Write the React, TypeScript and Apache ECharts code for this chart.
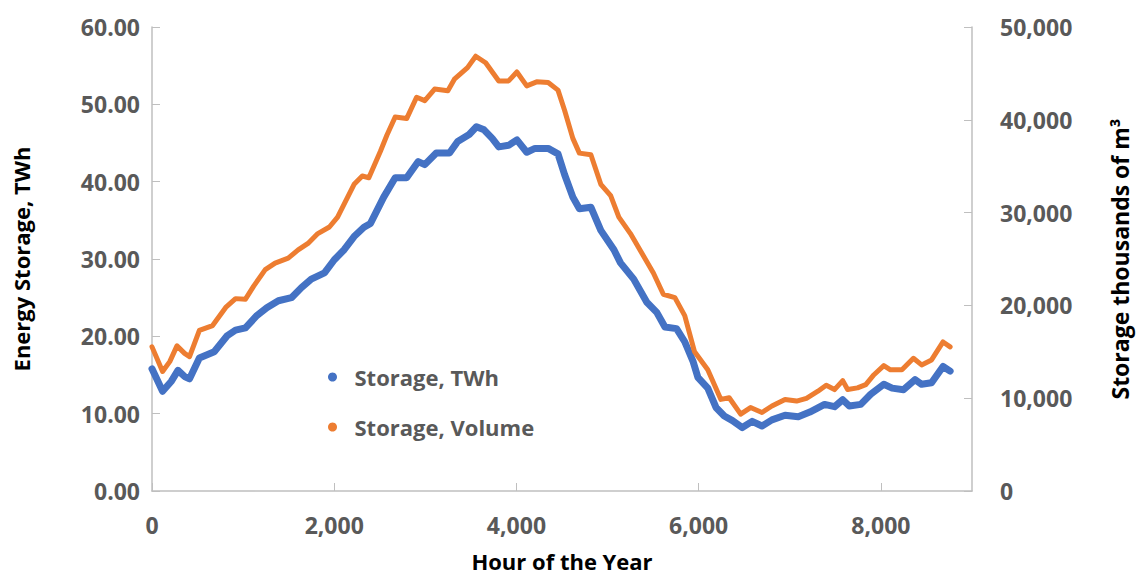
import React, { useEffect, useRef } from "react";
import * as echarts from "echarts";

const hoursTWh = [0, 116, 213, 285, 358, 412, 520, 683, 827, 917, 1026, 1152, 1260, 1387, 1531, 1640, 1748, 1893, 2001, 2109, 2218, 2326, 2398, 2543, 2669, 2795, 2922, 2994, 3120, 3265, 3355, 3481, 3561, 3644, 3734, 3806, 3914, 4005, 4113, 4204, 4348, 4456, 4529, 4619, 4691, 4817, 4926, 5070, 5142, 5287, 5431, 5540, 5630, 5757, 5847, 5937, 5991, 6100, 6190, 6281, 6371, 6479, 6587, 6695, 6804, 6948, 7093, 7220, 7382, 7491, 7581, 7653, 7779, 7888, 8032, 8123, 8249, 8375, 8447, 8556, 8682, 8760];
const storageTWh = [15.8, 12.9, 14.2, 15.6, 14.8, 14.5, 17.2, 18.0, 20.1, 20.8, 21.1, 22.7, 23.7, 24.6, 25.0, 26.3, 27.4, 28.2, 29.9, 31.2, 32.9, 34.1, 34.6, 38.0, 40.5, 40.5, 42.6, 42.2, 43.7, 43.7, 45.2, 46.1, 47.1, 46.7, 45.6, 44.5, 44.7, 45.4, 43.8, 44.3, 44.3, 43.6, 40.9, 38.0, 36.5, 36.7, 33.7, 31.2, 29.5, 27.4, 24.4, 23.1, 21.2, 21.0, 19.3, 16.8, 14.7, 13.3, 10.8, 9.7, 9.1, 8.2, 9.0, 8.4, 9.2, 9.8, 9.6, 10.2, 11.2, 10.9, 11.8, 11.0, 11.2, 12.5, 13.8, 13.3, 13.1, 14.4, 13.8, 14.0, 16.1, 15.5];

const hoursVolume = [0, 116, 195, 274, 358, 412, 520, 665, 809, 917, 1026, 1116, 1243, 1351, 1495, 1604, 1712, 1820, 1947, 2037, 2146, 2218, 2308, 2380, 2506, 2579, 2669, 2795, 2904, 2994, 3102, 3247, 3319, 3463, 3553, 3662, 3806, 3914, 4005, 4113, 4222, 4348, 4456, 4529, 4619, 4691, 4817, 4926, 5034, 5124, 5251, 5377, 5503, 5612, 5739, 5847, 5955, 6100, 6244, 6335, 6461, 6569, 6695, 6804, 6948, 7075, 7183, 7309, 7400, 7491, 7581, 7635, 7743, 7834, 7924, 8032, 8105, 8231, 8357, 8447, 8556, 8682, 8760];
const storageVolume = [15530, 12880, 13940, 15640, 14830, 14470, 17300, 17830, 19780, 20730, 20670, 22080, 23850, 24560, 25090, 25980, 26680, 27740, 28450, 29510, 31640, 33050, 33940, 33760, 36590, 38360, 40310, 40130, 42430, 42070, 43310, 43130, 44370, 45620, 46850, 46150, 44190, 44190, 45150, 43660, 44090, 44020, 43200, 41010, 38000, 36410, 36230, 33050, 31820, 29510, 27740, 25620, 23490, 21200, 20840, 18900, 15000, 13060, 9870, 10050, 8280, 8990, 8460, 9160, 9870, 9690, 9980, 10750, 11390, 10930, 11890, 10930, 11110, 11470, 12530, 13510, 13060, 13060, 14300, 13590, 14120, 16060, 15530];

const seriesNames = ["Storage, TWh", "Storage, Volume"];
const xTitle = "Hour of the Year";
const yLeftTitle = "Energy Storage, TWh";
const yRightTitle = "Storage thousands of m\u00b3";

export default function App() {
  const ref = useRef<HTMLDivElement>(null);
  useEffect(() => {
    if (!ref.current) return;
    const chart = echarts.init(ref.current, null, { renderer: "svg" });
    const font = "'Open Sans', sans-serif";
    const axisLine = { show: true, lineStyle: { color: "#BFBFBF", width: 1.5 } };
    const tickLabel = { fontFamily: font, fontWeight: "bold" as const, fontSize: 23, color: "#595959" };
    const nameStyle = { fontFamily: font, fontWeight: "bold" as const, fontSize: 22, color: "#000" };
    chart.setOption({
      animation: false,
      backgroundColor: "#fff",
      grid: { left: 152, right: 157, top: 27, bottom: 79, containLabel: false },
      legend: {
        orient: "vertical",
        left: 323,
        top: 360,
        icon: "circle",
        itemWidth: 34,
        itemHeight: 9,
        itemGap: 26,
        data: seriesNames,
        textStyle: { ...tickLabel, fontSize: 22, lineHeight: 24 },
      },
      xAxis: {
        type: "value",
        min: 0,
        max: 9000,
        interval: 2000,
        name: xTitle,
        nameLocation: "middle",
        nameGap: 59,
        nameTextStyle: nameStyle,
        axisLine,
        axisTick: { show: true, inside: true, length: 8, lineStyle: { color: "#BFBFBF" } },
        splitLine: { show: false },
        axisLabel: {
          ...tickLabel,
          margin: 22,
          showMaxLabel: false,
          formatter: (v: number) => v.toLocaleString("en-US"),
        },
      },
      yAxis: [
        {
          type: "value",
          min: 0,
          max: 60,
          interval: 10,
          position: "left",
          name: yLeftTitle,
          nameLocation: "middle",
          nameGap: 120,
          nameTextStyle: nameStyle,
          axisLine,
          axisTick: { show: true, inside: true, length: 8, lineStyle: { color: "#BFBFBF" } },
          splitLine: { show: false },
          axisLabel: { ...tickLabel, margin: 12, formatter: (v: number) => v.toFixed(2) },
        },
        {
          type: "value",
          min: 0,
          max: 50000,
          interval: 10000,
          position: "right",
          name: yRightTitle,
          nameLocation: "middle",
          nameRotate: 90,
          nameGap: 136,
          nameTextStyle: { ...nameStyle, fontSize: 23 },
          axisLine,
          axisTick: { show: true, inside: true, length: 8, lineStyle: { color: "#BFBFBF" } },
          splitLine: { show: false },
          axisLabel: { ...tickLabel, margin: 28, formatter: (v: number) => v.toLocaleString("en-US") },
        },
      ],
      series: [
        {
          name: seriesNames[0],
          type: "line",
          yAxisIndex: 0,
          showSymbol: false,
          symbol: "circle",
          color: "#4472C4",
          lineStyle: { width: 7, color: "#4472C4", join: "round", cap: "round" },
          data: hoursTWh.map((h, i) => [h, storageTWh[i]]),
        },
        {
          name: seriesNames[1],
          type: "line",
          yAxisIndex: 1,
          showSymbol: false,
          symbol: "circle",
          color: "#ED7D31",
          lineStyle: { width: 5, color: "#ED7D31", join: "round", cap: "round" },
          data: hoursVolume.map((h, i) => [h, storageVolume[i]]),
        },
      ],
    });
    return () => chart.dispose();
  }, []);
  return (
    <div
      ref={ref}
      style={{ position: "fixed", left: 0, top: 0, width: 1139, height: 577 }}
    />
  );
}
